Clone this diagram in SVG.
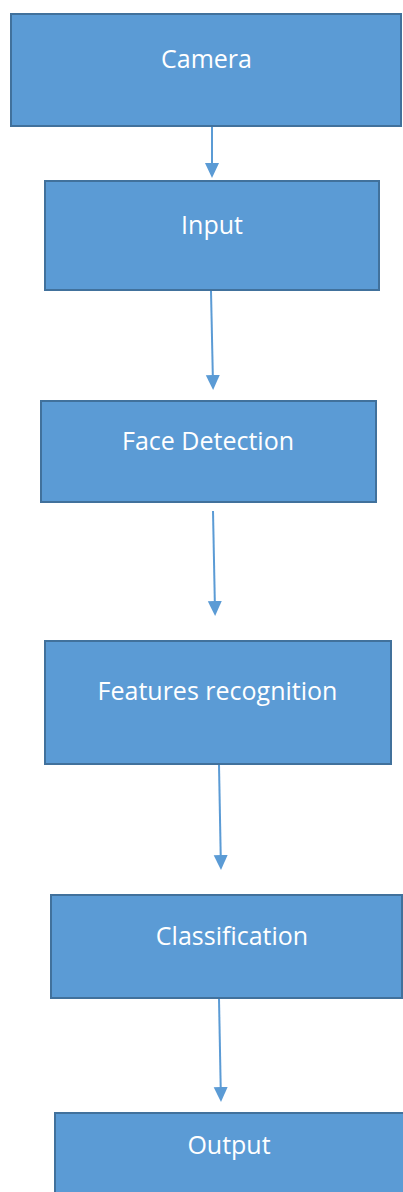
<svg xmlns="http://www.w3.org/2000/svg" width="403" height="1192" viewBox="0 0 403 1192">
<style>
.box{fill:#5B9BD5;stroke:#41719C;stroke-width:2}
.lbl{fill:#FFFFFF;font-family:"Open Sans","Liberation Sans",sans-serif;font-size:25px;text-anchor:middle}
.conn{stroke:#5B9BD5;stroke-width:2;fill:none}
</style>
<defs>
<marker id="arr" markerUnits="userSpaceOnUse" viewBox="0 -8 16 16" refX="0" refY="0" markerWidth="16" markerHeight="16" orient="auto">
<path d="M0,-7 L15,0 L0,7 z" fill="#5B9BD5"/>
</marker>
</defs>
<rect width="403" height="1192" fill="#FFFFFF"/>
<g id="camera"><rect class="box" x="11" y="14" width="390" height="112"/><text class="lbl" x="206.5" y="68">Camera</text></g>
<g id="input"><rect class="box" x="45" y="181" width="334" height="109"/><text class="lbl" x="212" y="234">Input</text></g>
<g id="face-detection"><rect class="box" x="41" y="401" width="335" height="101"/><text class="lbl" x="208" y="450">Face Detection</text></g>
<g id="features-recognition"><rect class="box" x="45" y="641" width="346" height="123"/><text class="lbl" x="217.5" y="700">Features recognition</text></g>
<g id="classification"><rect class="box" x="51" y="895" width="351" height="103"/><text class="lbl" x="232" y="945">Classification</text></g>
<g id="output"><rect class="box" x="55" y="1113" width="350" height="90"/><text class="lbl" x="229" y="1154">Output</text></g>
<g id="connectors">
<line class="conn" x1="212" y1="127" x2="212" y2="163" marker-end="url(#arr)"/>
<line class="conn" x1="211" y1="291" x2="212.8" y2="375" marker-end="url(#arr)"/>
<line class="conn" x1="213" y1="511" x2="214.8" y2="601" marker-end="url(#arr)"/>
<line class="conn" x1="219" y1="765" x2="220.7" y2="855" marker-end="url(#arr)"/>
<line class="conn" x1="219" y1="999" x2="220.7" y2="1087" marker-end="url(#arr)"/>
</g>
</svg>
